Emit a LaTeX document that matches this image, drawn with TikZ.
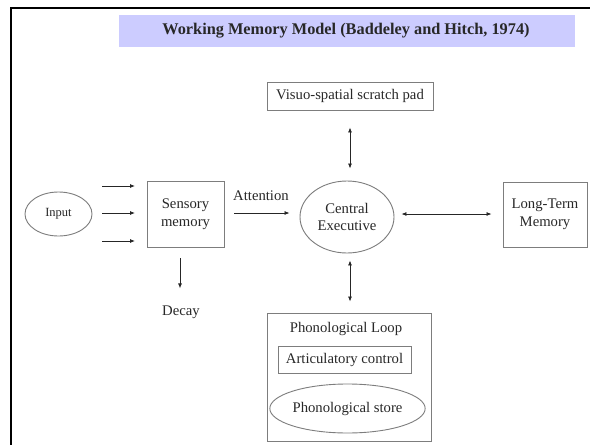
\documentclass[tikz,border=0pt]{standalone}
\usepackage{fontspec}
\setmainfont{Liberation Serif}
\usetikzlibrary{arrows.meta,shapes.geometric}
\definecolor{band}{RGB}{204,204,255}
\definecolor{txt}{RGB}{40,40,40}
\definecolor{edge}{RGB}{125,125,125}
\begin{document}
\begin{tikzpicture}[x=1pt,y=-1pt,
  every node/.style={text=txt,font=\fontsize{14.7pt}{17.5pt}\selectfont,inner sep=0pt,align=center},
  boxnode/.style={draw=edge,line width=0.9pt,rectangle},
  ellnode/.style={draw=edge,line width=0.9pt,ellipse},
  arr/.style={draw=black!85,line width=0.8pt,-{Latex[length=5pt,width=4pt]}},
  biarr/.style={draw=black!85,line width=0.8pt,{Latex[length=5pt,width=4pt]}-{Latex[length=5pt,width=4pt]}}]
\useasboundingbox (0,0) rectangle (590,445);
\fill[white] (0,0) rectangle (590,445);
\draw[line width=2pt,black] (11,445) -- (11,8) -- (590,8);
\fill[band] (119,15) rectangle (575,47);
\node[font=\fontsize{16.3pt}{19pt}\selectfont\bfseries] (title) at (346,31) {Working Memory Model (Baddeley and Hitch, 1974)};
\node[boxnode,minimum width=166pt,minimum height=28pt] (vsp) at (350,96) {Visuo-spatial scratch pad};
\node[ellnode,minimum width=67pt,minimum height=44pt,font=\fontsize{12.5pt}{14pt}\selectfont] (input) at (58.5,214) {Input};
\node[boxnode,minimum width=77pt,minimum height=66pt] (sens) at (185.5,214) {Sensory\\memory};
\node[ellnode,minimum width=94pt,minimum height=72pt] (ce) at (347,217) {Central\\Executive};
\node[boxnode,minimum width=84pt,minimum height=65pt] (ltm) at (545,214.5) {Long-Term\\Memory};
\node (att) at (261,196) {Attention};
\node (decay) at (181,312) {Decay};
\node[boxnode,minimum width=164pt,minimum height=128pt] (pl) at (349,377) {};
\node (pltitle) at (346,329) {Phonological Loop};
\node[boxnode,minimum width=133pt,minimum height=27pt] (artic) at (344.5,359.5) {Articulatory control};
\node[ellnode,minimum width=151pt,minimum height=49pt] (store) at (347.5,408.5) {Phonological store};
\coordinate (i1s) at (102,186); \coordinate (i1e) at (135,186);
\coordinate (i2s) at (102,213); \coordinate (i2e) at (135,213);
\coordinate (i3s) at (102,241); \coordinate (i3e) at (135,241);
\draw[arr] (i1s) -- (i1e);
\draw[arr] (i2s) -- (i2e);
\draw[arr] (i3s) -- (i3e);
\draw[arr] ([xshift=10pt]sens.east |- 0,213) -- ([xshift=-10pt]ce.west |- 0,213);
\draw[arr] ([yshift=-11pt]sens.south -| 180,0) -- ([yshift=17pt]decay.north -| 180,0);
\draw[biarr] ([yshift=-17pt]vsp.south) -- ([yshift=12pt]ce.north -| vsp.south);
\draw[biarr] ([xshift=7pt]ce.east |- 0,214) -- ([xshift=-11pt]ltm.west |- 0,214);
\draw[biarr] ([yshift=-7pt]ce.south -| vsp.south) -- ([yshift=11pt]pl.north -| vsp.south);
\end{tikzpicture}
\end{document}
